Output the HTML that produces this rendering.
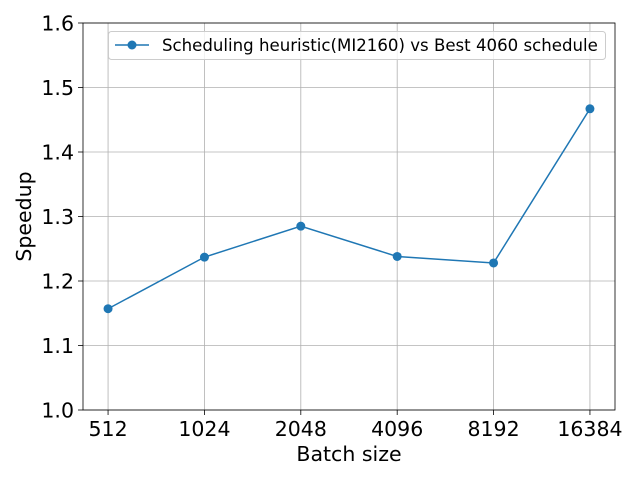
<!DOCTYPE html>
<html><head><meta charset="utf-8"><style>
body{margin:0;background:#fff}
svg{font-family:"DejaVu Sans","Liberation Sans",sans-serif}
</style></head><body>
<svg id="chart" width="640" height="480"></svg>
<script>
const categories=["512","1024","2048","4096","8192","16384"];
const speedups=[1.157,1.237,1.285,1.238,1.228,1.467];
const yTicks=[1.0,1.1,1.2,1.3,1.4,1.5,1.6];
const seriesName="Scheduling heuristic(MI2160) vs Best 4060 schedule";
const L=83,R=615,T=23,B=410;
const svg=document.getElementById('chart');
const NS="http://www.w3.org/2000/svg";
function x(i){return L+(i+0.26)*(R-L)/5.52;}
function y(v){return B-(v-1.0)/0.6*(B-T);}
function mk(tag,attrs,parent){const e=document.createElementNS(NS,tag);for(const k in attrs)e.setAttribute(k,attrs[k]);(parent||svg).appendChild(e);return e;}
const grid=mk('g',{});


categories.forEach((c,i)=>{
 const g=mk('line',{x1:x(i),x2:x(i),y1:T,y2:B,stroke:'#b0b0b0','stroke-width':0.8},grid);
 
 
 const t=mk('line',{x1:x(i),x2:x(i),y1:B,y2:B+5,stroke:'#000','stroke-width':0.8});
 
 
 const lb=mk('text',{x:x(i),y:B+26,'text-anchor':'middle','font-size':20.5});
 lb.textContent=c;
 
 
});
yTicks.forEach(v=>{
 const g=mk('line',{x1:L,x2:R,y1:y(v),y2:y(v),stroke:'#b0b0b0','stroke-width':0.8},grid);
 
 
 const t=mk('line',{x1:L-5,x2:L,y1:y(v),y2:y(v),stroke:'#000','stroke-width':0.8});
 
 
 const lb=mk('text',{x:L-9,y:y(v)+7.5,'text-anchor':'end','font-size':20.5});
 lb.textContent=v.toFixed(1);
 
 
});
const line=mk('polyline',{points:speedups.map((v,i)=>x(i)+','+y(v)).join(' '),fill:'none',stroke:'#1f77b4','stroke-width':1.5});


speedups.forEach((v,i)=>{
 const p=mk('circle',{cx:x(i),cy:y(v),r:4.5,fill:'#1f77b4'});
 
 
});
const frame=mk('rect',{x:L,y:T,width:R-L,height:B-T,fill:'none',stroke:'#000','stroke-width':0.8});


const xl=mk('text',{x:(L+R)/2,y:461,'text-anchor':'middle','font-size':20.5});
xl.textContent='Batch size';


const yl=mk('text',{x:0,y:0,'text-anchor':'middle','font-size':20.5,transform:'translate(31,'+((T+B)/2)+') rotate(-90)'});
yl.textContent='Speedup';


const lg=mk('g',{});


const lr=mk('rect',{x:108.5,y:31.5,width:497,height:28,rx:3,fill:'#fff','fill-opacity':0.8,stroke:'#ccc'},lg);


const ll=mk('line',{x1:115,x2:149,y1:45,y2:45,stroke:'#1f77b4','stroke-width':1.5},lg);


const lc=mk('circle',{cx:132,cy:45,r:4.5,fill:'#1f77b4'},lg);


const lt=mk('text',{x:162,y:51,'font-size':16.6},lg);
lt.textContent=seriesName;


</script>
</body></html>
